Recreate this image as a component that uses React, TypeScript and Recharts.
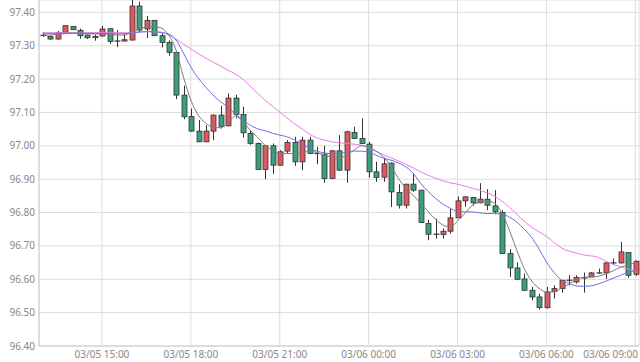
import React from 'react';
import {
  ComposedChart,
  Bar,
  Line,
  XAxis,
  YAxis,
  CartesianGrid,
} from 'recharts';

// 15-minute candles, 03/05 13:00 .. 03/06 09:00
const START_MINUTES = 13 * 60;
const STEP_MINUTES = 15;
const CANDLE_COUNT = 81;

const open = [
  97.331, 97.328, 97.32, 97.34, 97.358, 97.346, 97.332, 97.324, 97.329, 97.351,
  97.314, 97.314, 97.317, 97.419, 97.35, 97.376, 97.33, 97.31, 97.28, 97.152,
  97.088, 97.044, 97.012, 97.044, 97.092, 97.06, 97.143, 97.094, 97.037, 97.007,
  96.929, 97.0, 96.942, 96.984, 97.01, 96.952, 97.017, 96.977, 96.975, 96.902,
  96.985, 96.927, 97.04, 97.022, 97.005, 96.922, 96.906, 96.948, 96.86, 96.822,
  96.885, 96.867, 96.767, 96.735, 96.734, 96.744, 96.784, 96.835, 96.845, 96.829,
  96.84, 96.82, 96.8, 96.677, 96.634, 96.601, 96.567, 96.547, 96.515, 96.564,
  96.572, 96.597, 96.592, 96.604, 96.607, 96.619, 96.619, 96.649, 96.649, 96.68,
  96.615,
];

const close = [
  97.331, 97.32, 97.34, 97.36, 97.348, 97.33, 97.324, 97.328, 97.35, 97.313,
  97.314, 97.318, 97.419, 97.347, 97.376, 97.33, 97.31, 97.28, 97.152, 97.087,
  97.044, 97.012, 97.044, 97.092, 97.058, 97.143, 97.094, 97.039, 97.007, 96.929,
  97.0, 96.942, 96.982, 97.01, 96.952, 97.017, 96.977, 96.977, 96.902, 96.985,
  96.927, 97.042, 97.022, 97.007, 96.922, 96.905, 96.946, 96.862, 96.822, 96.885,
  96.867, 96.77, 96.735, 96.735, 96.744, 96.784, 96.835, 96.847, 96.829, 96.84,
  96.822, 96.802, 96.677, 96.634, 96.6, 96.567, 96.547, 96.515, 96.562, 96.572,
  96.597, 96.597, 96.605, 96.604, 96.619, 96.619, 96.649, 96.649, 96.682, 96.612,
  96.654,
];

const high = [
  97.341, 97.33, 97.344, 97.361, 97.359, 97.351, 97.333, 97.333, 97.359, 97.352,
  97.347, 97.334, 97.445, 97.432, 97.389, 97.377, 97.337, 97.316, 97.281, 97.18,
  97.112, 97.077, 97.062, 97.094, 97.12, 97.157, 97.153, 97.117, 97.047, 97.01,
  97.001, 97.007, 96.987, 97.017, 97.027, 97.027, 97.027, 96.997, 97.0, 96.987,
  97.032, 97.045, 97.057, 97.082, 97.012, 96.952, 96.962, 96.95, 96.885, 96.886,
  96.917, 96.868, 96.778, 96.782, 96.752, 96.811, 96.848, 96.848, 96.846, 96.888,
  96.87, 96.867, 96.807, 96.69, 96.65, 96.617, 96.577, 96.557, 96.577, 96.582,
  96.597, 96.612, 96.612, 96.62, 96.622, 96.632, 96.652, 96.662, 96.712, 96.68,
  96.657,
];

const low = [
  97.326, 97.318, 97.318, 97.339, 97.347, 97.321, 97.32, 97.315, 97.328, 97.305,
  97.296, 97.313, 97.316, 97.34, 97.323, 97.329, 97.295, 97.27, 97.14, 97.08,
  97.043, 97.011, 97.011, 97.017, 97.052, 97.058, 97.082, 97.025, 97.003, 96.927,
  96.9, 96.916, 96.94, 96.977, 96.94, 96.927, 96.975, 96.945, 96.889, 96.9,
  96.925, 96.889, 97.02, 97.005, 96.905, 96.892, 96.892, 96.817, 96.812, 96.812,
  96.862, 96.769, 96.717, 96.722, 96.722, 96.737, 96.784, 96.817, 96.82, 96.828,
  96.807, 96.795, 96.676, 96.607, 96.597, 96.565, 96.537, 96.509, 96.512, 96.542,
  96.56, 96.582, 96.587, 96.56, 96.607, 96.617, 96.601, 96.642, 96.647, 96.604,
  96.61,
];

const ma5 = [
  97.332, 97.332, 97.335, 97.336, 97.338, 97.338, 97.336, 97.335, 97.336, 97.335,
  97.332, 97.332, 97.341, 97.35, 97.356, 97.357, 97.353, 97.332, 97.287, 97.206,
  97.137, 97.092, 97.068, 97.056, 97.054, 97.068, 97.089, 97.074, 97.047, 97.026,
  97.002, 96.987, 96.978, 96.977, 96.977, 96.978, 96.984, 96.98, 96.972, 96.966,
  96.963, 96.972, 96.987, 97.0, 96.996, 96.984, 96.967, 96.939, 96.903, 96.873,
  96.852, 96.828, 96.804, 96.78, 96.763, 96.757, 96.774, 96.798, 96.822, 96.831,
  96.835, 96.828, 96.798, 96.747, 96.687, 96.633, 96.595, 96.573, 96.562, 96.562,
  96.573, 96.585, 96.598, 96.606, 96.607, 96.609, 96.616, 96.625, 96.636, 96.643,
  96.649,
];

const ma10 = [
  97.336, 97.336, 97.336, 97.337, 97.337, 97.337, 97.337, 97.337, 97.337, 97.336,
  97.336, 97.336, 97.338, 97.341, 97.342, 97.342, 97.339, 97.335, 97.317, 97.278,
  97.236, 97.203, 97.176, 97.152, 97.132, 97.116, 97.095, 97.078, 97.062, 97.051,
  97.045, 97.038, 97.032, 97.027, 97.017, 97.006, 96.993, 96.984, 96.979, 96.976,
  96.977, 96.981, 96.984, 96.984, 96.981, 96.972, 96.963, 96.957, 96.949, 96.937,
  96.918, 96.888, 96.864, 96.843, 96.826, 96.813, 96.804, 96.802, 96.802, 96.799,
  96.797, 96.797, 96.796, 96.786, 96.772, 96.75, 96.726, 96.691, 96.652, 96.621,
  96.598, 96.588, 96.58, 96.579, 96.58, 96.586, 96.594, 96.603, 96.612, 96.621,
  96.625,
];

const ma20 = [
  97.339, 97.339, 97.339, 97.339, 97.339, 97.339, 97.339, 97.339, 97.339, 97.339,
  97.339, 97.339, 97.339, 97.341, 97.342, 97.342, 97.341, 97.332, 97.32, 97.305,
  97.29, 97.276, 97.263, 97.251, 97.239, 97.227, 97.215, 97.2, 97.179, 97.158,
  97.137, 97.119, 97.101, 97.083, 97.066, 97.051, 97.035, 97.024, 97.017, 97.012,
  97.009, 97.007, 97.005, 97.002, 96.994, 96.984, 96.973, 96.964, 96.955, 96.945,
  96.934, 96.922, 96.912, 96.903, 96.895, 96.889, 96.885, 96.879, 96.873, 96.867,
  96.859, 96.849, 96.834, 96.816, 96.795, 96.774, 96.756, 96.742, 96.729, 96.711,
  96.694, 96.685, 96.679, 96.673, 96.67, 96.666, 96.654, 96.645, 96.637, 96.631,
  96.625,
];

const xTicks = [
  '03/05 15:00',
  '03/05 18:00',
  '03/05 21:00',
  '03/06 00:00',
  '03/06 03:00',
  '03/06 06:00',
  '03/06 09:00',
];
const yTicks = [96.4, 96.5, 96.6, 96.7, 96.8, 96.9, 97.0, 97.1, 97.2, 97.3, 97.4];

const UP = '#e0585f';
const DOWN = '#3c9e7b';
const EDGE = '#333';

const pad = (n: number) => String(n).padStart(2, '0');

const times = Array.from({ length: CANDLE_COUNT }, (_, i) => {
  const m = START_MINUTES + i * STEP_MINUTES;
  const day = m >= 1440 ? '03/06' : '03/05';
  const mm = m % 1440;
  return `${day} ${pad(Math.floor(mm / 60))}:${pad(mm % 60)}`;
});

const data = times.map((time, i) => ({
  time,
  range: [low[i], high[i]],
  open: open[i],
  close: close[i],
  ma5: ma5[i],
  ma10: ma10[i],
  ma20: ma20[i],
}));

function Candle(props: any) {
  const { x, y, width, height, payload } = props;
  if (x == null || y == null) return null;
  const [lo, hi] = payload.range;
  const top = Math.min(y, y + height);
  const span = Math.abs(height);
  const k = span / (hi - lo);
  const cx = Math.round(x + width / 2) + 0.5;
  const yo = top + (hi - payload.open) * k;
  const yc = top + (hi - payload.close) * k;
  const bodyTop = Math.min(yo, yc);
  const bodyH = Math.abs(yc - yo);
  const w = 5;
  const doji = bodyH < 1;
  const fill = payload.close > payload.open ? UP : DOWN;
  return (
    <g>
      <line x1={cx} x2={cx} y1={top} y2={top + span} stroke={EDGE} strokeWidth={1} />
      {doji ? (
        <line x1={cx - w / 2 - 0.5} x2={cx + w / 2 + 0.5} y1={yo} y2={yo} stroke={EDGE} strokeWidth={1.2} />
      ) : (
        <rect
          x={cx - w / 2}
          y={bodyTop}
          width={w}
          height={bodyH}
          fill={fill}
          stroke={EDGE}
          strokeWidth={0.8}
        />
      )}
    </g>
  );
}

function TimeTick(props: any) {
  const { x, y, payload, index } = props;
  const last = index === xTicks.length - 1;
  return (
    <text
      x={last ? 638 : x}
      y={y}
      dy={10}
      textAnchor={last ? 'end' : 'middle'}
      fill="#888"
      fontSize={10}
    >
      {payload.value}
    </text>
  );
}

export default function App() {
  return (
    <div style={{ position: 'absolute', left: 0, top: 0, fontFamily: '"Noto Sans", sans-serif' }}>
      <ComposedChart
        width={640}
        height={362}
        data={data}
        margin={{ top: 0, right: 1, left: 0, bottom: 0 }}
      >
        <CartesianGrid stroke="#dcdcdc" />
        <XAxis
          dataKey="time"
          ticks={xTicks}
          interval={0}
          height={16}
          tickLine={false}
          tickSize={0}
          axisLine={{ stroke: '#ccc' }}
          tick={<TimeTick />}
        />
        <YAxis
          domain={[96.4, 97.437]}
          ticks={yTicks}
          allowDataOverflow
          width={39}
          tickLine={false}
          tickSize={0}
          tickMargin={4}
          axisLine={{ stroke: '#ccc' }}
          tick={{ fontSize: 10, fill: '#888' }}
          tickFormatter={(v: number) => v.toFixed(2)}
        />
        <Bar dataKey="range" barSize={6} shape={(p: any) => <Candle {...p} />} isAnimationActive={false} />
        <Line type="monotone" dataKey="ma20" stroke="#ea7be8" strokeWidth={1} dot={false} isAnimationActive={false} />
        <Line type="monotone" dataKey="ma10" stroke="#6e6ee8" strokeWidth={1} dot={false} isAnimationActive={false} />
        <Line type="monotone" dataKey="ma5" stroke="#7d7d7d" strokeWidth={1} dot={false} isAnimationActive={false} />
      </ComposedChart>
    </div>
  );
}
